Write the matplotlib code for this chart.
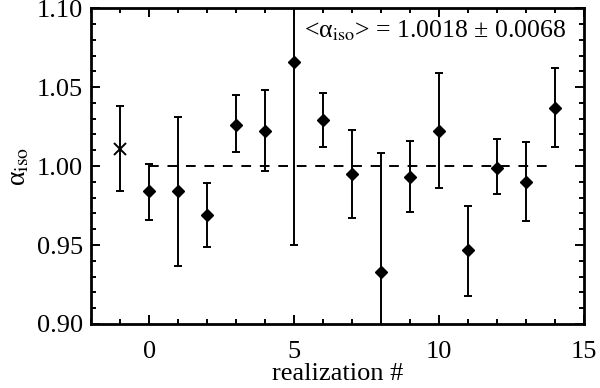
import numpy as np
import matplotlib
matplotlib.use("Agg")
import matplotlib.pyplot as plt

plt.rcParams['font.family'] = ['Liberation Serif', 'DejaVu Serif']
plt.rcParams['mathtext.fontset'] = 'stix'

# mean of all realizations (x marker at -1)
mean_x = [-1]
mean_val = [1.0106]
mean_lo = [0.984]
mean_hi = [1.038]

# individual realizations
real_x = [0, 1, 2, 3, 4, 5, 6, 7, 8, 9, 10, 11, 12, 13, 14]
real_val = [0.984, 0.984, 0.969, 1.026, 1.022, 1.066, 1.029, 0.995, 0.933,
            0.993, 1.022, 0.947, 0.999, 0.990, 1.037]
real_lo = [0.966, 0.937, 0.949, 1.009, 0.997, 0.950, 1.012, 0.967, 0.860,
           0.971, 0.986, 0.918, 0.982, 0.965, 1.012]
real_hi = [1.001, 1.031, 0.989, 1.045, 1.048, 1.180, 1.046, 1.023, 1.008,
           1.016, 1.059, 0.975, 1.017, 1.015, 1.062]

fig = plt.figure(figsize=(6.0, 3.88), dpi=100)
ax = fig.add_axes([0.152, 0.165, 0.821, 0.814])

# dashed reference line at 1
ax.plot([0, 14], [1.0, 1.0], color='black', lw=1.4, ls=(0, (5, 4.5)))

v = np.array(mean_val)
ax.errorbar(mean_x, v, yerr=[v - np.array(mean_lo), np.array(mean_hi) - v],
            fmt='x', color='black', ms=8, mew=1.4, elinewidth=1.4,
            capsize=3, capthick=1.4)

v = np.array(real_val)
ax.errorbar(real_x, v, yerr=[v - np.array(real_lo), np.array(real_hi) - v],
            fmt='D', color='black', ms=6, elinewidth=1.4,
            capsize=3, capthick=1.4)

ax.set_xlim(-2, 15)
ax.set_ylim(0.90, 1.10)
ax.set_xticks([0, 5, 10, 15])
ax.set_xticks(np.arange(-2, 16, 1), minor=True)
ax.set_yticks([0.90, 0.95, 1.00, 1.05, 1.10])
ax.set_yticklabels(['0.90', '0.95', '1.00', '1.05', '1.10'])
ax.set_yticks(np.arange(0.90, 1.101, 0.01), minor=True)

ax.tick_params(which='both', direction='in', top=True, right=True,
               labelsize=19, width=1.4)
ax.tick_params(which='major', length=6.5)
ax.tick_params(which='minor', length=3.5)
ax.tick_params(axis='x', which='major', pad=12)
ax.tick_params(axis='y', which='major', pad=6)
for s in ax.spines.values():
    s.set_linewidth(2)

ax.set_xlabel('realization #', fontsize=19, labelpad=0)
ax.set_ylabel('α$_{\\rm iso}$', fontsize=20, labelpad=4)

ax.text(0.965, 0.93, '<α$_{\\rm iso}$> = 1.0018 ± 0.0068',
        transform=ax.transAxes, ha='right', va='center', fontsize=18.5)

fig.savefig('out.png', dpi=100)
